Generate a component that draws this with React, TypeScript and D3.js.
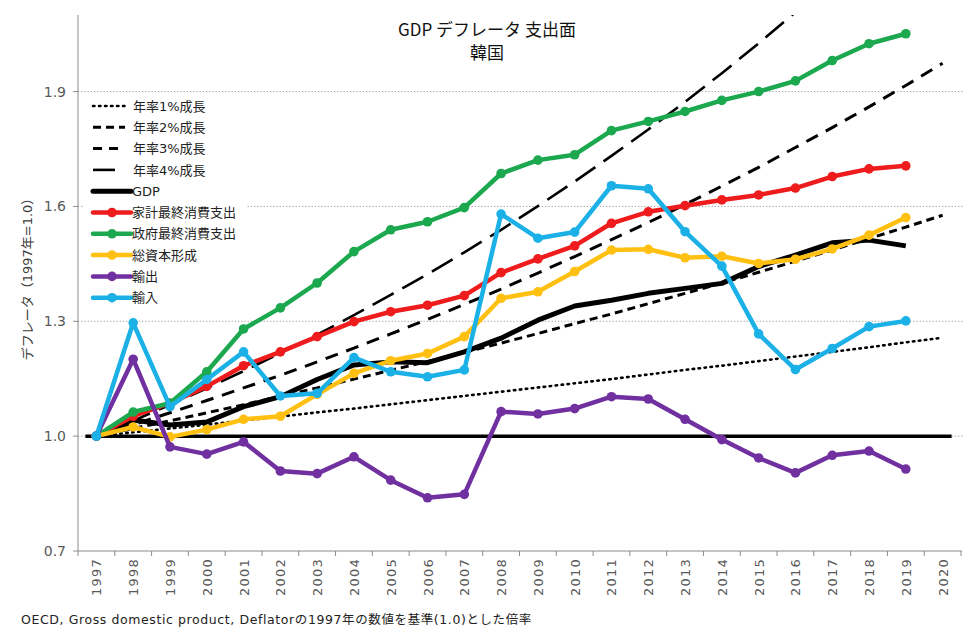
import React from "react";
import * as d3 from "d3";

const years = [1997,1998,1999,2000,2001,2002,2003,2004,2005,2006,2007,2008,2009,2010,2011,2012,2013,2014,2015,2016,2017,2018,2019,2020];
const dataYears = years.slice(0, 23);

const yTicks = [0.7, 1.0, 1.3, 1.6, 1.9];
const gridValues = [1.0, 1.3, 1.6, 1.9];

const growth1 = [1.000,1.010,1.020,1.030,1.041,1.051,1.062,1.072,1.083,1.094,1.105,1.116,1.127,1.138,1.149,1.161,1.173,1.184,1.196,1.208,1.220,1.232,1.245,1.257];
const growth2 = [1.000,1.020,1.040,1.061,1.082,1.104,1.126,1.149,1.172,1.195,1.219,1.243,1.268,1.294,1.319,1.346,1.373,1.400,1.428,1.457,1.486,1.516,1.546,1.577];
const growth3 = [1.000,1.030,1.061,1.093,1.126,1.159,1.194,1.230,1.267,1.305,1.344,1.384,1.426,1.469,1.513,1.558,1.605,1.653,1.702,1.754,1.806,1.860,1.916,1.974];
const growth4 = [1.000,1.040,1.082,1.125,1.170,1.217,1.265,1.316,1.369,1.423,1.480,1.539,1.601,1.665,1.732,1.801,1.873,1.948,2.026,2.107,2.191,2.279,2.370,2.465];

const gdp = [1.000,1.042,1.029,1.037,1.077,1.103,1.148,1.186,1.194,1.192,1.220,1.256,1.303,1.340,1.355,1.373,1.386,1.399,1.443,1.473,1.505,1.512,1.497];
const household = [1.000,1.052,1.086,1.130,1.184,1.220,1.260,1.299,1.325,1.342,1.367,1.427,1.463,1.497,1.556,1.586,1.602,1.617,1.630,1.648,1.678,1.698,1.706];
const government = [1.000,1.063,1.086,1.168,1.280,1.335,1.400,1.482,1.539,1.560,1.597,1.686,1.721,1.735,1.798,1.822,1.848,1.877,1.900,1.928,1.981,2.025,2.051];
const capital = [1.000,1.024,0.998,1.017,1.044,1.052,1.109,1.164,1.197,1.216,1.260,1.360,1.377,1.430,1.486,1.488,1.466,1.470,1.451,1.462,1.489,1.525,1.571];
const exportsS = [1.000,1.201,0.972,0.953,0.985,0.909,0.902,0.946,0.885,0.839,0.848,1.064,1.058,1.072,1.103,1.097,1.044,0.991,0.943,0.904,0.950,0.961,0.914];
const importsS = [1.000,1.296,1.077,1.148,1.220,1.105,1.112,1.205,1.168,1.155,1.173,1.580,1.517,1.533,1.654,1.646,1.534,1.444,1.267,1.174,1.229,1.286,1.301];

const growthLabels = ["年率1%成長", "年率2%成長", "年率3%成長", "年率4%成長"];
const seriesLabels = ["GDP", "家計最終消費支出", "政府最終消費支出", "総資本形成", "輸出", "輸入"];

const FONT = "'Noto Sans CJK JP', 'Noto Sans', sans-serif";
const WIDE = "'DejaVu Sans', 'Noto Sans CJK JP', sans-serif";

export default function App() {
  const W = 978, H = 639;
  const x = d3.scaleBand<number>().domain(years).range([78, 961]).padding(0);
  const cx = (yr: number) => (x(yr) as number) + x.bandwidth() / 2;
  const y = d3.scaleLinear().domain([0.7, 2.1]).range([551, 15]);

  const growthDefs = [
    { vals: growth1, dash: "1.5 4.5", cap: "round", w: 2.6 },
    { vals: growth2, dash: "8 5", cap: "butt", w: 3 },
    { vals: growth3, dash: "13 9", cap: "butt", w: 3 },
    { vals: growth4, dash: "24 10", cap: "butt", w: 2.6 },
  ];
  const colorDefs = [
    { vals: household, color: "#EE1C1C" },
    { vals: government, color: "#1BA84E" },
    { vals: capital, color: "#FFC012" },
    { vals: exportsS, color: "#7030A0" },
    { vals: importsS, color: "#1BB1E7" },
  ];

  const lineGen = d3.line<number>().x((_, i) => cx(years[i])).y((d) => y(d));

  const legendX0 = 93;
  const legendY0 = 106;
  const legendStep = 21.3;

  return (
    <svg width={W} height={H} style={{ position: "absolute", left: 0, top: 0, background: "#fff" }} fontFamily={FONT}>
      <defs>
        <clipPath id="plotClip">
          <rect x={78} y={15} width={900} height={540} />
        </clipPath>
      </defs>
      <rect x={0} y={0} width={W} height={H} fill="#fff" />

      {/* gridlines */}
      {gridValues.map((v) => (
        <line key={v} x1={78} x2={964} y1={y(v)} y2={y(v)} stroke="#9a9a9a" strokeWidth={1} strokeDasharray="1.2 2" />
      ))}

      {/* axes */}
      <line x1={78} x2={78} y1={15} y2={551} stroke="#8c8c8c" strokeWidth={1} />
      <line x1={78} x2={962} y1={551} y2={551} stroke="#8c8c8c" strokeWidth={1} />
      {yTicks.map((v) => (
        <g key={v}>
          <line x1={73} x2={78} y1={y(v)} y2={y(v)} stroke="#8c8c8c" />
          <text x={66} y={y(v)} dy="0.36em" textAnchor="end" fontSize={14} fill="#595959" fontFamily={WIDE}>{v.toFixed(1)}</text>
        </g>
      ))}
      {years.concat([2021]).map((yr, i) => {
        const xx = i < years.length ? (x(yr) as number) : 78 + x.bandwidth() * years.length;
        return <line key={"t" + yr} x1={xx} x2={xx} y1={551} y2={556} stroke="#8c8c8c" />;
      })}
      {years.map((yr) => (
        <text key={"l" + yr} transform={`translate(${cx(yr) + 5},${558}) rotate(-90)`} textAnchor="end" fontSize={13} fill="#595959" letterSpacing={1.2} fontFamily={WIDE}>
          {yr}
        </text>
      ))}

      <text transform={`translate(${32},${276}) rotate(-90)`} textAnchor="middle" fontSize={13} fill="#404040" fontFamily={WIDE}>
        デフレータ（1997年=1.0）
      </text>

      {/* series */}
      <g clipPath="url(#plotClip)">
        {growthDefs.map((g, i) => (
          <path key={"g" + i} d={lineGen(g.vals) as string} fill="none" stroke="#000" strokeWidth={g.w} strokeDasharray={g.dash} strokeLinecap={g.cap as any} />
        ))}
      </g>
      <line x1={cx(1997) - 11} x2={cx(2020) + 9} y1={y(1.0)} y2={y(1.0)} stroke="#000" strokeWidth={3.5} />
      <path d={lineGen(gdp) as string} fill="none" stroke="#000" strokeWidth={5} strokeLinejoin="round" />
      {colorDefs.map((s, i) => (
        <g key={"s" + i}>
          <path d={lineGen(s.vals) as string} fill="none" stroke={s.color} strokeWidth={4.5} strokeLinejoin="round" />
          {s.vals.map((v, j) => (
            <circle key={j} cx={cx(dataYears[j])} cy={y(v)} r={4.8} fill={s.color} />
          ))}
        </g>
      ))}

      {/* legend */}
      <rect x={84} y={96} width={163} height={212} fill="#fff" />
      {growthLabels.map((lab, i) => {
        const g = growthDefs[i];
        const ly = legendY0 + i * legendStep;
        return (
          <g key={"lg" + i}>
            <line x1={legendX0} x2={125} y1={ly} y2={ly} stroke="#000" strokeWidth={g.w} strokeDasharray={i === 3 ? "22 10" : i === 2 ? "9 7" : g.dash} strokeLinecap={g.cap as any} />
            <text x={133} y={ly} dy="0.36em" fontSize={13} fill="#222" fontFamily={WIDE}>{lab}</text>
          </g>
        );
      })}
      {seriesLabels.map((lab, i) => {
        const ly = legendY0 + (i + 4) * legendStep;
        const color = i === 0 ? "#000" : colorDefs[i - 1].color;
        return (
          <g key={"ls" + i}>
            <line x1={legendX0} x2={131} y1={ly} y2={ly} stroke={color} strokeWidth={i === 0 ? 5 : 4.5} strokeLinecap="round" />
            {i > 0 && <circle cx={112} cy={ly} r={4.8} fill={color} />}
            <text x={132} y={ly} dy="0.36em" fontSize={13} fill="#222" fontFamily={WIDE}>{lab}</text>
          </g>
        );
      })}

      {/* title */}
      <text x={487} y={36} textAnchor="middle" fontSize={17} fill="#111">GDP デフレータ 支出面</text>
      <text x={487} y={59} textAnchor="middle" fontSize={17} fill="#111">韓国</text>

      {/* footer */}
      <text x={21} y={624} fontSize={12.5} letterSpacing={0.6} fill="#222" fontFamily={WIDE}>OECD, Gross domestic product, Deflatorの1997年の数値を基準(1.0)とした倍率</text>
    </svg>
  );
}
